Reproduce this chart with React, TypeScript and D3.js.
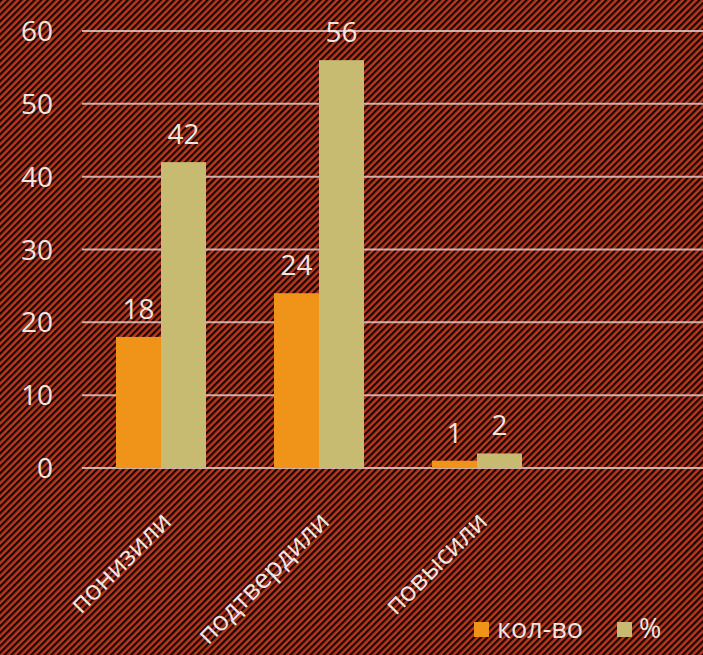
import React from "react";
import * as d3 from "d3";

const categories = ["понизили", "подтвердили", "повысили"];
const seriesNames = ["кол-во", "%"];
const countValues = [18, 24, 1];
const percentValues = [42, 56, 2];
const yTicks = [0, 10, 20, 30, 40, 50, 60];

const W = 703;
const H = 655;
const FONT = "'Open Sans', 'DejaVu Sans', sans-serif";
const TEXT = "#ece6e4";
const colors = ["#ef9419", "#c6bb70"];

export default function App() {
  const x = d3.scaleBand<string>().domain(categories).range([82, 556]).paddingInner(0).paddingOuter(0);
  const inner = d3.scaleBand<string>().domain(seriesNames).range([-45, 45]).padding(0);
  const y = d3.scaleLinear().domain([0, 60]).range([468, 31]);
  const series = [countValues, percentValues];

  return (
    <svg width={W} height={H} style={{ position: "absolute", left: 0, top: 0, display: "block" }}>
      <defs>
        <pattern id="stripes" width={4.7} height={10} patternUnits="userSpaceOnUse" patternTransform="rotate(45)">
          <rect x={0} y={0} width={4.7} height={10} fill="#bc381c" />
          <rect x={0} y={0} width={2.2} height={10} fill="#160402" />
        </pattern>
      </defs>
      <rect x={0} y={0} width={W} height={H} fill="url(#stripes)" />
      {yTicks.map((t) => (
        <g key={t}>
          <line x1={82} x2={W} y1={y(t)} y2={y(t)} stroke="#e0cac6" strokeWidth={2} opacity={0.85} />
          <text x={53} y={y(t)} dy="0.36em" textAnchor="end" fill={TEXT} fontFamily={FONT} fontSize={28}>
            {t}
          </text>
        </g>
      ))}
      {categories.map((c, i) => {
        const cx = (x(c) as number) + x.bandwidth() / 2;
        return (
          <g key={c}>
            {series.map((vals, s) => {
              const bx = cx + (inner(seriesNames[s]) as number);
              const v = vals[i];
              return (
                <g key={s}>
                  <rect x={bx} y={y(v)} width={inner.bandwidth()} height={y(0) - y(v)} fill={colors[s]} />
                  <text
                    x={bx + inner.bandwidth() / 2}
                    y={y(v) - 18}
                    textAnchor="middle"
                    fill={TEXT}
                    fontFamily={FONT}
                    fontSize={28}
                  >
                    {v}
                  </text>
                </g>
              );
            })}
            <text
              transform={`translate(${cx + 12},${523}) rotate(-45)`}
              textAnchor="end"
              fill={TEXT}
              fontFamily={FONT}
              fontSize={27}
            >
              {c}
            </text>
          </g>
        );
      })}
      <g>
        <rect x={474} y={622} width={15} height={15} fill={colors[0]} />
        <text x={497} y={638} fill={TEXT} fontFamily={FONT} fontSize={27}>
          {seriesNames[0]}
        </text>
        <rect x={617} y={622} width={15} height={15} fill={colors[1]} />
        <text x={639} y={638} fill={TEXT} fontFamily={FONT} fontSize={27}>
          {seriesNames[1]}
        </text>
      </g>
    </svg>
  );
}
